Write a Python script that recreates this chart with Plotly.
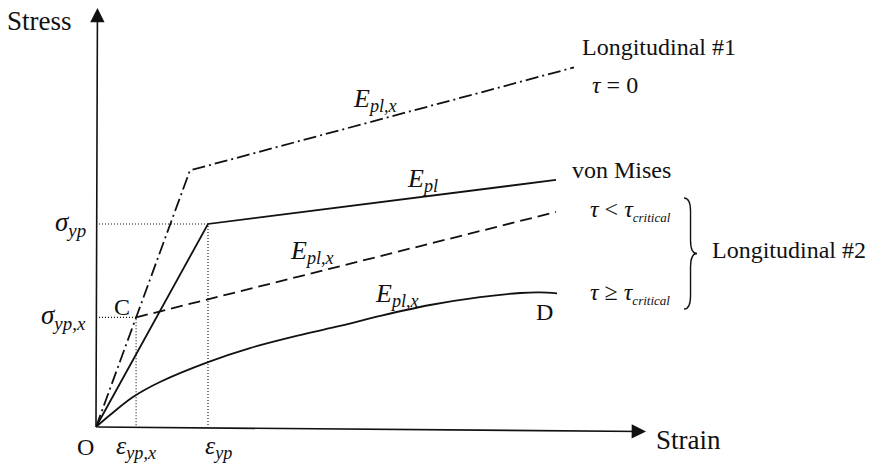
import plotly.graph_objects as go

# Schematic stress-strain curves (arbitrary units: von Mises yield point = (1, 1))
strain_yp, stress_yp = 1.0, 1.0          # von Mises yield
strain_ypx, stress_ypx = 0.358, 0.54     # point C (longitudinal yield)

long1_strain = [0.0, 0.839, 4.268]
long1_stress = [0.0, 1.264, 1.771]

mises_strain = [0.0, strain_yp, 4.107]
mises_stress = [0.0, stress_yp, 1.217]

long2a_strain = [strain_ypx, 4.107]
long2a_stress = [stress_ypx, 1.059]

long2b_strain = [0.0, 0.125, 0.330, 0.571, 1.000, 1.375, 1.821, 2.179,
                 2.536, 2.982, 3.429, 3.786, 3.964, 4.116]
long2b_stress = [0.0, 0.059, 0.148, 0.222, 0.320, 0.389, 0.453, 0.498,
                 0.547, 0.601, 0.640, 0.660, 0.663, 0.658]

INK = "#111111"
SERIF = "Liberation Serif"

fig = go.Figure()

def line(x, y, dash="solid", width=1.8, shape="linear"):
    fig.add_trace(go.Scatter(x=x, y=y, mode="lines", hoverinfo="skip",
                             line=dict(color=INK, width=width, dash=dash, shape=shape)))

# guide lines to the yield points
line([0, strain_yp, strain_yp], [stress_yp, stress_yp, 0], dash="1px,2px", width=1.1)
line([0, strain_ypx, strain_ypx], [stress_ypx, stress_ypx, 0], dash="1px,2px", width=1.1)

# curves
line(long1_strain, long1_stress, dash="13px,4px,2px,4px")
line(mises_strain, mises_stress)
line(long2a_strain, long2a_stress, dash="12px,6px")
line(long2b_strain, long2b_stress, shape="spline")

# axes with arrowheads
axes = [
    dict(x=0.013, y=2.064, ax=0, ay=0),     # stress axis
    dict(x=4.911, y=-0.022, ax=0, ay=0),    # strain axis
]
for a in axes:
    fig.add_annotation(x=a["x"], y=a["y"], ax=a["ax"], ay=a["ay"],
                       xref="x", yref="y", axref="x", ayref="y", text="",
                       showarrow=True, arrowhead=2, arrowsize=1.8,
                       arrowwidth=1.6, arrowcolor=INK, standoff=0)

def label(x, y, text, size=24, xanchor="center"):
    fig.add_annotation(x=x, y=y, xref="x", yref="y", text=text, showarrow=False,
                       xanchor=xanchor, yanchor="middle",
                       font=dict(family=SERIF, size=size, color=INK))

CRIT = '<sub><span style="font-size:13px"><i>critical</i></span></sub>'

label(-0.5, 2.0, "Stress", size=27)
label(5.29, -0.064, "Strain", size=27)
label(-0.09, -0.10, "O")
label(strain_ypx, -0.10, "<i>ε</i><sub><i>yp,x</i></sub>", size=26)
label(strain_yp + 0.09, -0.10, "<i>ε</i><sub><i>yp</i></sub>", size=26)
label(-0.07, stress_yp, "<i>σ</i><sub><i>yp</i></sub>", size=27, xanchor="right")
label(-0.07, stress_ypx, "<i>σ</i><sub><i>yp,x</i></sub>", size=27, xanchor="right")
label(strain_ypx - 0.13, stress_ypx + 0.05, "C")
label(4.0, 0.565, "D")

label(4.32, 1.872, "Longitudinal #1", xanchor="left")
label(4.41, 1.685, "<i>τ</i> = 0", xanchor="left")
label(4.232, 1.266, "von Mises", xanchor="left")
label(4.393, 1.064, "<i>τ</i> &lt; <i>τ</i>" + CRIT, xanchor="left")
label(4.393, 0.660, "<i>τ</i> ≥ <i>τ</i>" + CRIT, xanchor="left")
label(5.482, 0.872, "Longitudinal #2", xanchor="left")

E_PLX = "<i>E</i><sub><i>pl,x</i></sub>"
label(2.491, 1.611, E_PLX, size=26)
label(2.911, 1.217, "<i>E</i><sub><i>pl</i></sub>", size=26)
label(1.929, 0.862, E_PLX, size=26)
label(2.688, 0.650, E_PLX, size=26)

# curly brace grouping the two longitudinal #2 cases
def brace(xl, yt, yb, w):
    xm = xl + w * 0.5
    ym = (yt + yb) / 2
    d = 0.12 * (yt - yb)
    return (f"M {xl},{yt} Q {xm},{yt} {xm},{yt - d} L {xm},{ym + d} "
            f"Q {xm},{ym} {xl + w},{ym} Q {xm},{ym} {xm},{ym - d} "
            f"L {xm},{yb + d} Q {xm},{yb} {xl},{yb}")

fig.add_shape(type="path", xref="x", yref="y", path=brace(5.25, 1.128, 0.581, 0.116),
              line=dict(color=INK, width=1.4))

fig.update_layout(
    width=874, height=464, margin=dict(l=0, r=0, t=0, b=0),
    paper_bgcolor="white", plot_bgcolor="white", showlegend=False,
    font=dict(family=SERIF),
    xaxis=dict(range=[-0.857, 6.946], visible=False, fixedrange=True),
    yaxis=dict(range=[-0.182, 2.103], visible=False, fixedrange=True),
)

fig.write_html("out.html")
